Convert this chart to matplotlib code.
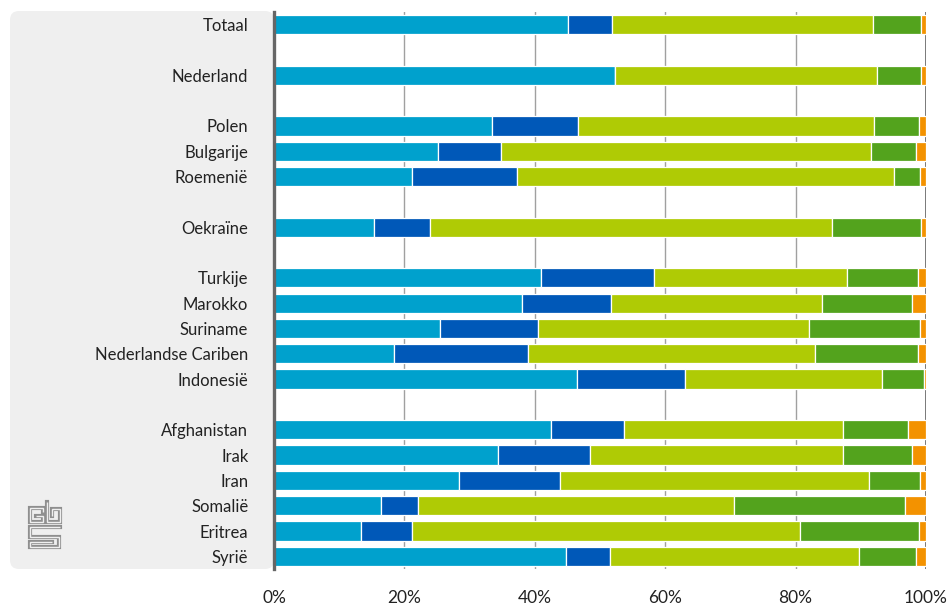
import matplotlib
matplotlib.use("Agg")
import matplotlib.pyplot as plt
from matplotlib.patches import FancyBboxPatch
import numpy as np

categories = ["Totaal", "Nederland", "Polen", "Bulgarije", "Roemenië", "Oekraïne",
              "Turkije", "Marokko", "Suriname", "Nederlandse Cariben", "Indonesië",
              "Afghanistan", "Irak", "Iran", "Somalië", "Eritrea", "Syrië"]
row_pos = [0, 2, 4, 5, 6, 8, 10, 11, 12, 13, 14, 16, 17, 18, 19, 20, 21]

seg1 = [45.1, 52.3, 33.4, 25.1, 21.1, 15.3, 41.0, 38.1, 25.5, 18.4, 46.4, 42.5, 34.3, 28.4, 16.4, 13.3, 44.8]
seg2 = [6.8, 0.0, 13.3, 9.7, 16.2, 8.6, 17.3, 13.6, 15.0, 20.5, 16.7, 11.2, 14.2, 15.5, 5.7, 7.8, 6.7]
seg3 = [39.9, 40.2, 45.3, 56.7, 57.8, 61.7, 29.6, 32.4, 41.5, 44.1, 30.2, 33.5, 38.7, 47.4, 48.5, 59.6, 38.2]
seg4 = [7.5, 6.8, 7.0, 7.0, 4.0, 13.7, 10.9, 13.7, 17.1, 15.8, 6.4, 10.0, 10.6, 7.8, 26.2, 18.2, 8.8]
seg5 = [0.7, 0.7, 1.0, 1.5, 0.9, 0.7, 1.2, 2.2, 0.9, 1.2, 0.3, 2.8, 2.2, 0.9, 3.2, 1.1, 1.5]

xticks = [0, 20, 40, 60, 80, 100]
xticklabels = ["0%", "20%", "40%", "60%", "80%", "100%"]
colors = ["#00a1cd", "#0058b8", "#afcb05", "#53a31d", "#f39200"]

plt.rcParams['font.family'] = ['Lato', 'DejaVu Sans']

W, H = 950, 604
fig = plt.figure(figsize=(W / 100, H / 100), dpi=100)

# background overlay (pixel coords)
bg = fig.add_axes([0, 0, 1, 1], zorder=0)
bg.set_xlim(0, W)
bg.set_ylim(H, 0)
bg.axis("off")
panel = FancyBboxPatch((10, 11), 264, 558, boxstyle="round,pad=0,rounding_size=9",
                       facecolor="#efefef", edgecolor="none")
bg.add_patch(panel)

logo_paths = [
    [(43, 512), (43, 508), (29.5, 508), (29.5, 522), (43, 522), (43, 515.5), (36, 515.5)],
    [(46.5, 501.5), (46.5, 522), (59.5, 522), (59.5, 508.5), (52, 508.5), (52, 515.5)],
    [(59.5, 526.5), (29.5, 526.5), (29.5, 536.5), (59, 536.5), (59, 546.5), (29.5, 546.5), (29.5, 541.5), (52, 541.5)],
]
for p in logo_paths:
    xs, ys = zip(*p)
    bg.plot(xs, ys, color="#8f8f8f", lw=3.0, solid_joinstyle="miter", solid_capstyle="projecting")
    bg.plot(xs, ys, color="#efefef", lw=1.0, solid_joinstyle="miter", solid_capstyle="butt")

# main axes
left, right = 274 / W, 926 / W
top, bottom = 1 - 12 / H, 1 - 569 / H
ax = fig.add_axes([left, bottom, right - left, top - bottom], zorder=1)
ax.patch.set_alpha(0)

ypos = np.array(row_pos)
lefts = np.zeros(len(categories))
for vals, c in zip([seg1, seg2, seg3, seg4, seg5], colors):
    v = np.array(vals)
    ax.barh(ypos, v, left=lefts, height=0.76, color=c, edgecolor="white", linewidth=0.9, zorder=3)
    lefts += v

for x in [20, 40, 60, 80]:
    ax.axvline(x, color="#a0a0a0", lw=1.0, zorder=1)
ax.axvline(100, color="#6e6e6e", lw=1.3, zorder=1)

ax.set_xlim(0, 100)
ax.set_ylim(21.5, -0.5)
ax.set_yticks(ypos)
ax.set_yticklabels(categories, fontsize=12, color="#222222")
ax.set_xticks(xticks)
ax.set_xticklabels(xticklabels, fontsize=12.5, color="#222222")
ax.tick_params(axis="y", length=0, pad=18.5)
ax.tick_params(axis="x", length=0, pad=15)
for s in ["top", "right", "bottom"]:
    ax.spines[s].set_visible(False)
ax.spines["left"].set_color("#666666")
ax.spines["left"].set_linewidth(2.4)
ax.spines["left"].set_zorder(5)

fig.savefig("out.png", dpi=100)
